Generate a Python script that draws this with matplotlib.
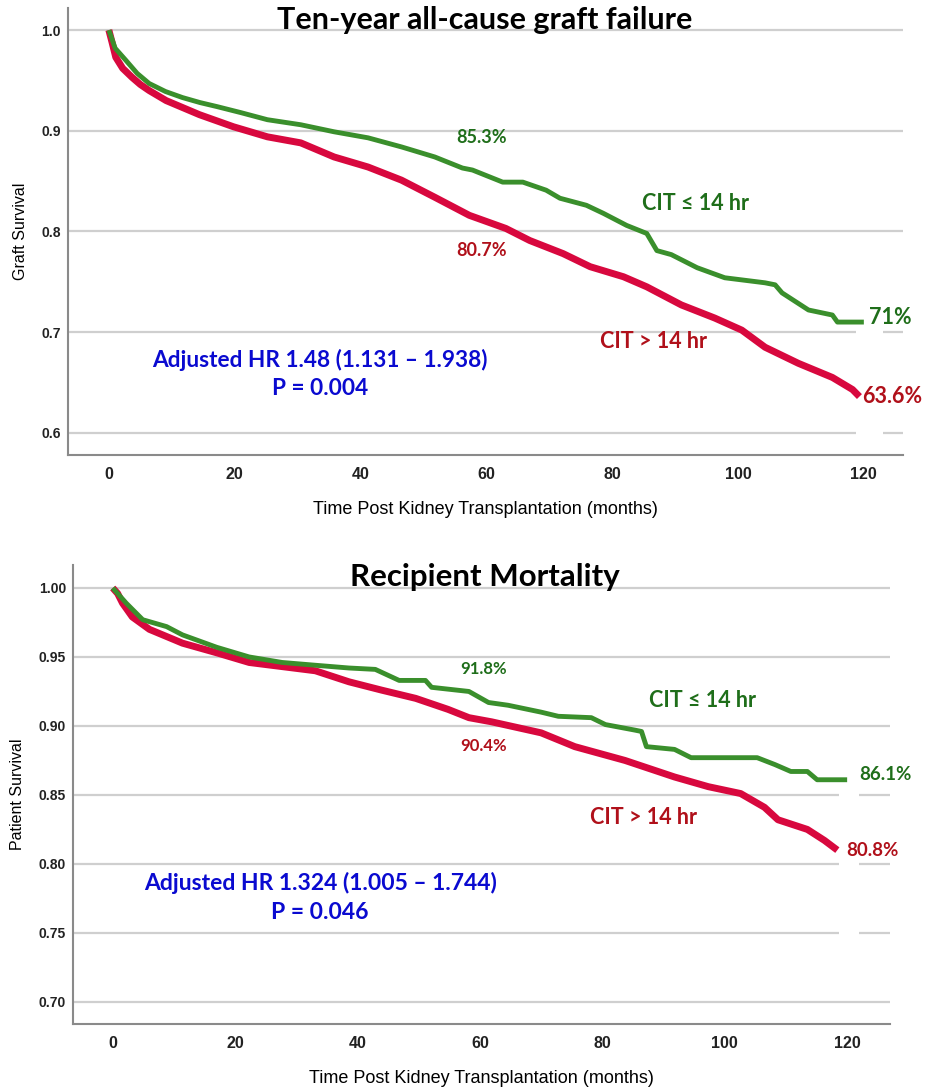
import matplotlib
matplotlib.use("Agg")
import matplotlib.pyplot as plt
from matplotlib.patches import Rectangle

# graft survival (top panel)
graft_low_months = [0, 1, 2.7, 4.5, 6.4, 9, 11.7, 14.5, 17.2, 21, 25.2, 30.5, 35.8, 41.2, 46.5,
                    51.8, 56.2, 57.8, 62.6, 65.8, 69.5, 71.7, 75.9, 78.6, 82.3, 85.5, 87.1, 89.4,
                    93.5, 97.9, 104.3, 105.9, 107, 111.2, 115, 115.8, 120]
graft_low_surv = [1.0, 0.982, 0.970, 0.957, 0.947, 0.939, 0.933, 0.928, 0.924, 0.918, 0.911, 0.906,
                  0.899, 0.893, 0.884, 0.874, 0.863, 0.861, 0.849, 0.849, 0.841, 0.833, 0.826, 0.818,
                  0.806, 0.798, 0.781, 0.777, 0.764, 0.754, 0.749, 0.747, 0.739, 0.722, 0.717, 0.710,
                  0.710]
graft_high_months = [0, 0.5, 1.1, 2.2, 3.7, 5, 6.4, 9.1, 14.4, 19.8, 25.2, 30.5, 35.8, 41.2, 46.5,
                     51.8, 57.3, 63.1, 66.9, 72.2, 76.5, 81.8, 85.5, 91, 96.3, 100.6, 104.3, 109.6,
                     115, 118.2, 119.3]
graft_high_surv = [1.0, 0.988, 0.973, 0.962, 0.953, 0.946, 0.940, 0.930, 0.916, 0.904, 0.894, 0.888,
                   0.874, 0.864, 0.851, 0.834, 0.816, 0.803, 0.791, 0.778, 0.765, 0.755, 0.745, 0.727,
                   0.714, 0.702, 0.685, 0.669, 0.655, 0.643, 0.636]

# patient survival (bottom panel)
pat_low_months = [0, 1, 2.2, 4.9, 8.8, 11.4, 17, 22.3, 27.7, 33.1, 38.6, 42.9, 46.8, 51.1, 52.1,
                  58.2, 61.4, 64.6, 70, 72.8, 78.2, 80.5, 85.3, 86.4, 87.2, 91.8, 94.5, 105.3,
                  108.2, 110.8, 113.5, 115.1, 120]
pat_low_surv = [1.0, 0.995, 0.989, 0.977, 0.972, 0.966, 0.957, 0.950, 0.946, 0.944, 0.942, 0.941,
                0.933, 0.933, 0.928, 0.925, 0.917, 0.915, 0.910, 0.907, 0.906, 0.901, 0.897, 0.896,
                0.885, 0.883, 0.877, 0.877, 0.872, 0.867, 0.867, 0.861, 0.861]
pat_high_months = [0, 0.8, 1.6, 3.2, 6, 11.4, 17, 22.3, 27.7, 33.1, 38.6, 43.9, 49.5, 54.8, 58.2,
                   61.9, 70, 75.5, 83.7, 91.8, 97.3, 102.6, 106.5, 108.7, 113.5, 116.3, 118.4]
pat_high_surv = [1.0, 0.996, 0.989, 0.979, 0.970, 0.960, 0.953, 0.946, 0.943, 0.940, 0.932, 0.926,
                 0.920, 0.912, 0.906, 0.903, 0.895, 0.885, 0.875, 0.863, 0.856, 0.851, 0.841, 0.832,
                 0.825, 0.817, 0.810]

x_ticks = [0, 20, 40, 60, 80, 100, 120]
graft_yticks = [0.6, 0.7, 0.8, 0.9, 1.0]
graft_ytick_labels = ["0.6", "0.7", "0.8", "0.9", "1.0"]
pat_yticks = [0.70, 0.75, 0.80, 0.85, 0.90, 0.95, 1.00]
pat_ytick_labels = ["0.70", "0.75", "0.80", "0.85", "0.90", "0.95", "1.00"]

LINE_GREEN = "#3a8f2c"
LINE_RED = "#d8083e"
TXT_GREEN = "#1f6e1a"
TXT_RED = "#b0101a"
TXT_BLUE = "#0a0ad0"
CAL = "Lato"

plt.rcParams["font.family"] = ["Liberation Sans", "DejaVu Sans"]

fig = plt.figure(figsize=(9.26, 10.9), dpi=100)


def setup_axes(ax, xlim, ylim, yticks, ylabels, ylabel):
    ax.set_xlim(*xlim)
    ax.set_ylim(*ylim)
    ax.set_xticks(x_ticks)
    ax.set_xticklabels([str(t) for t in x_ticks], fontsize=11.5, fontweight="bold", color="#222222")
    ax.set_yticks(yticks)
    ax.set_yticklabels(ylabels, fontsize=10, fontweight="bold", color="#222222")
    ax.tick_params(length=0, pad=5)
    ax.tick_params(axis="x", pad=9)
    for s in ["top", "right"]:
        ax.spines[s].set_visible(False)
    for s in ["left", "bottom"]:
        ax.spines[s].set_color("#8a8a8a")
        ax.spines[s].set_linewidth(1.5)
    ax.set_axisbelow(True)
    ax.yaxis.grid(True, color="#cfcfcf", linewidth=1.6)
    ax.set_ylabel(ylabel, fontsize=11.5, labelpad=10)
    ax.set_xlabel("Time Post Kidney Transplantation (months)", fontsize=13, labelpad=13)


# ---- top panel: graft failure
ax1 = fig.add_axes([0.0734, 0.5826, 0.9016, 0.4101])
setup_axes(ax1, (-6.5, 126.2), (0.578, 1.022), graft_yticks, graft_ytick_labels, "Graft Survival")
ax1.add_patch(Rectangle((118.8, 0.59), 4.3, 0.13, facecolor="white", edgecolor="none", zorder=1))
ax1.plot(graft_high_months, graft_high_surv, color=LINE_RED, lw=5, zorder=3, solid_capstyle="butt")
ax1.plot(graft_low_months, graft_low_surv, color=LINE_GREEN, lw=3.5, zorder=4, solid_capstyle="butt")

ax1.text(59.2, 0.893, "85.3%", color=TXT_GREEN, fontsize=13, fontweight="bold", family=CAL,
         ha="center", va="center")
ax1.text(59.2, 0.7815, "80.7%", color=TXT_RED, fontsize=13, fontweight="bold", family=CAL,
         ha="center", va="center")
ax1.text(93.2, 0.828, "CIT ≤ 14 hr", color=TXT_GREEN, fontsize=15.5, fontweight="bold", family=CAL,
         ha="center", va="center")
ax1.text(86.5, 0.691, "CIT > 14 hr", color=TXT_RED, fontsize=15.5, fontweight="bold", family=CAL,
         ha="center", va="center")
ax1.text(124.2, 0.715, "71%", color=TXT_GREEN, fontsize=15.5, fontweight="bold", family=CAL,
         ha="center", va="center")
ax1.text(124.5, 0.6356, "63.6%", color=TXT_RED, fontsize=15.5, fontweight="bold", family=CAL,
         ha="center", va="center")
ax1.text(33.6, 0.672, "Adjusted HR 1.48 (1.131 – 1.938)", color=TXT_BLUE, fontsize=16.3,
         fontweight="bold", family=CAL, ha="center", va="center")
ax1.text(33.6, 0.6445, "P = 0.004", color=TXT_BLUE, fontsize=16.3, fontweight="bold", family=CAL,
         ha="center", va="center")
fig.text(485 / 926, 1 - 20 / 1090, "Ten-year all-cause graft failure", fontsize=22, fontweight="bold",
         family=CAL, ha="center", va="center")

# ---- bottom panel: recipient mortality
ax2 = fig.add_axes([0.0788, 0.0606, 0.8823, 0.4211])
setup_axes(ax2, (-6.5, 127), (0.684, 1.0167), pat_yticks, pat_ytick_labels, "Patient Survival")
ax2.add_patch(Rectangle((118.7, 0.72), 3.3, 0.14, facecolor="white", edgecolor="none", zorder=1))
ax2.plot(pat_high_months, pat_high_surv, color=LINE_RED, lw=5, zorder=3, solid_capstyle="butt")
ax2.plot(pat_low_months, pat_low_surv, color=LINE_GREEN, lw=3.5, zorder=4, solid_capstyle="butt")

ax2.text(60.6, 0.9413, "91.8%", color=TXT_GREEN, fontsize=12, fontweight="bold", family=CAL,
         ha="center", va="center")
ax2.text(60.6, 0.8855, "90.4%", color=TXT_RED, fontsize=12, fontweight="bold", family=CAL,
         ha="center", va="center")
ax2.text(96.3, 0.9188, "CIT ≤ 14 hr", color=TXT_GREEN, fontsize=15.5, fontweight="bold", family=CAL,
         ha="center", va="center")
ax2.text(86.8, 0.8333, "CIT > 14 hr", color=TXT_RED, fontsize=15.5, fontweight="bold", family=CAL,
         ha="center", va="center")
ax2.text(126.2, 0.8645, "86.1%", color=TXT_GREEN, fontsize=13.5, fontweight="bold", family=CAL,
         ha="center", va="center")
ax2.text(124.1, 0.8094, "80.8%", color=TXT_RED, fontsize=13.5, fontweight="bold", family=CAL,
         ha="center", va="center")
ax2.text(33.9, 0.7862, "Adjusted HR 1.324 (1.005 – 1.744)", color=TXT_BLUE, fontsize=16.5,
         fontweight="bold", family=CAL, ha="center", va="center")
ax2.text(33.9, 0.7645, "P = 0.046", color=TXT_BLUE, fontsize=16.5, fontweight="bold", family=CAL,
         ha="center", va="center")
fig.text(485 / 926, 1 - 577 / 1090, "Recipient Mortality", fontsize=22.5, fontweight="bold",
         family=CAL, ha="center", va="center")

fig.savefig("out.png", dpi=100, facecolor="white")
